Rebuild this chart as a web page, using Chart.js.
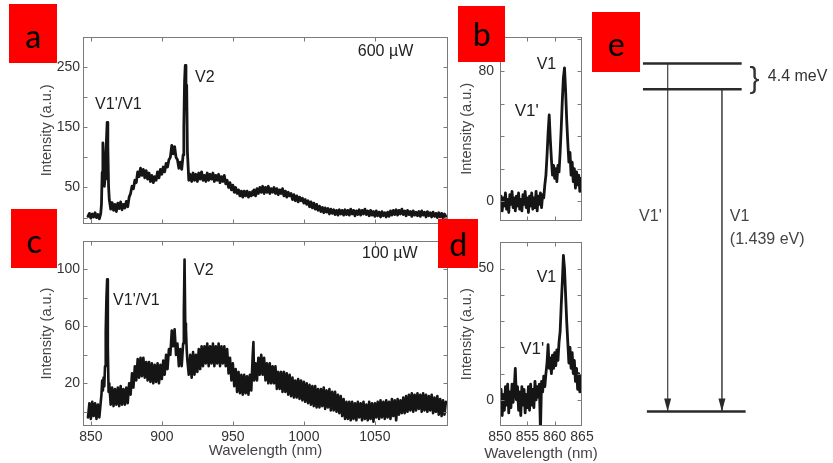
<!DOCTYPE html>
<html><head><meta charset="utf-8">
<script src="https://cdn.jsdelivr.net/npm/chart.js@4.4.1/dist/chart.umd.min.js"></script>
<style>
html,body{margin:0;padding:0;background:#fff;}
#fig{position:relative;width:833px;height:463px;overflow:hidden;background:#fff;}
canvas{position:absolute;}
.tag{position:absolute;z-index:5;background:#ff0000;color:#000;font-family:Lato,"Noto Sans",sans-serif;font-size:32px;line-height:1;display:flex;align-items:center;justify-content:center;}
</style></head><body>
<div id="fig">
<canvas id="cA" width="460" height="215" style="left:0;top:20px;width:460px;height:215px"></canvas>
<canvas id="cC" width="460" height="235" style="left:0;top:228px;width:460px;height:235px"></canvas>
<canvas id="cB" width="150" height="215" style="left:440px;top:20px;width:150px;height:215px"></canvas>
<canvas id="cD" width="160" height="235" style="left:440px;top:228px;width:160px;height:235px"></canvas>
<canvas id="cE" width="233" height="463" style="left:600px;top:0;width:233px;height:463px"></canvas>
<div class="tag" style="left:9px;top:4px;width:48px;height:59px;padding-top:4px;box-sizing:border-box">a</div>
<div class="tag" style="left:458px;top:6px;width:47px;height:56px">b</div>
<div class="tag" style="left:11px;top:209px;width:46px;height:59px;padding-top:4px;box-sizing:border-box">c</div>
<div class="tag" style="left:438px;top:219px;width:40px;height:49px">d</div>
<div class="tag" style="left:592px;top:12px;width:48px;height:60px;padding-top:4px;box-sizing:border-box">e</div>
</div>
<script>
// ---------- data ----------
const waveAC = [848,849,850,851,852,853,854,855,856,857,
 857.5,858,858.5,859,859.5,860,860.5,861,861.5,862,862.5,863,
 864,865,866,867,868,869,870,871,872,873,874,875,876,877,878,879,880,881,882,883,884,885,886,887,888,889,890,891,892,893,894,895,896,897,898,899,900,901,902,903,904,905,906,907,908,909,910,911,912,913,914,915,
 915.5,916,916.5,917,917.5,918,
 919,920,921,922,923,924,925,926,927,928,929,930,931,932,933,934,935,936,937,938,939,940,941,942,943,944,945,946,947,948,949,950,951,952,953,954,955,956,957,958,959,960,961,962,963,964,
 964.5,965,966,967,968,969,970,971,972,973,974,975,976,977,978,979,980,981,982,983,984,985,986,987,988,989,990,991,992,993,994,995,996,997,998,999,1000,1001,1002,1003,1004,1005,1006,1007,1008,1009,1010,1011,1012,1013,1014,1015,1016,1017,1018,1019,1020,1021,1022,1023,1024,1025,1026,1027,1028,1029,1030,1031,1032,1033,1034,1035,1036,1037,1038,1039,1040,1041,1042,1043,1044,1045,1046,1047,1048,1049,1050,1051,1052,1053,1054,1055,1056,1057,1058,1059,1060,1061,1062,1063,1064,1065,1066,1067,1068,1069,1070,1071,1072,1073,1074,1075,1076,1077,1078,1079,1080,1081,1082,1083,1084,1085,1086,1087,1088,1089,1090,1091,1092,1093,1094,1095,1096,1097,1098,1099,1100];
// panel a: 600 µW
const intensityA = [2,7,-1,6,1,8,0,5,-2,7,
 22,75,124,96,52,64,88,128,158,118,52,30,
 14,25,12,22,10,24,15,26,13,22, 16,27,18,34,40,52,48,62,58,76, 68,82,70,80,66,78,64,74,60,70, 58,68,62,76,66,80,72,84,76,90, 84,96,100,120,106,118,100,96,82,92, 80,104,
 150,225,253,180,220,110,
 62,72,60,74,62,72,60,74,64,76, 62,70,60,74,62,72,64,74,60,70, 62,72,58,68,60,70,56,62,50,58, 46,54,42,50,40,46,36,44,34,44, 36,44,34,42,36,44,
 38,
 46,36,48,40,50,42,52,40,50,42, 52,40,48,42,50,40,48,38,46,40, 48,36,44,34,42,36,40,30,38,28, 36,26,34,28,32,24,30,22,28,18,
 26,16,24,14,22,12,19,10,17,8, 16,9,15,6,14,7,13,5,12,4, 13,6,12,4,13,5,12,4,14,6, 12,3,11,5,13,4,12,6,14,5,
 11,3,12,4,10,2,11,3,9,1, 10,3,8,1,9,2,11,4,12,5, 13,4,12,6,14,5,11,3,12,5, 10,2,11,4,9,3,10,2,11,4,
 9,1,10,3,8,1,9,2,7,0, 8,1,7,-1,6,2];
// panel c: 100 µW
const intensityC = [-4,6,-5,7,-3,6,-5,5,-4,7,
 12,22,15,24,18,32,57,80,93,45,14,20,
 5,17,4,16,5,17,4,18,5,16, 5,17,6,20,12,27,17,32,22,37, 24,38,25,38,24,35,22,35,21,34, 20,33,21,34,20,33,23,36,26,40, 30,44,40,57,46,58,40,48,32,44, 32,48,
 70,107,62,58,44,36,
 26,40,24,42,26,40,28,44,30,46, 32,46,34,48,32,46,34,48,32,46, 34,48,32,46,34,46,32,44,27,38, 22,34,18,30,14,28,13,26,12,26, 13,25,12,26,15,40,
 49,
 22,34,22,38,26,40,26,38,22,34, 20,34,20,32,20,32,16,28,16,28, 14,28,14,27,12,26,11,24,10,22, 10,23,9,22,8,21,7,20,6,19,
 5,18,4,18,3,16,3,16,4,17, 2,15,3,16,1,14,1,14,0,12, -1,11,-3,9,-5,7,-5,7,-6,7, -5,6,-6,7,-4,6,-6,7,-5,5,
 -6,7,-5,6,-7,6,-4,7,-5,8, -4,7,-5,8,-4,7,-5,9,-3,8, -6,9,-2,8,-1,10,-1,11,0,12, 1,13,0,12,1,13,2,12,0,13,
 1,12,0,11,1,12,-1,10,0,11, -2,9,-3,8,-2,7];
const waveBD = [850,850.2,850.4,850.6,850.8,851,851.2,851.4,851.6,851.8,852,852.2,852.4,852.6,852.8,853,853.2,853.4,853.6,853.8,854,854.2,854.4,854.6,854.8,855,855.2,855.4,855.6,855.8,856,856.2,856.4,856.6,856.8,857,857.2,857.4,857.6,857.8,858,858.2,858.4,858.6,858.8,859,859.2,859.4,859.6,859.8,860,860.2,860.4,860.6,860.8,861,861.2,861.4,861.6,861.8,862,862.2,862.4,862.6,862.8,863,863.2,863.4,863.6,863.8,864,864.2,864.4,864.6,864.8,865];
// panel b: zoom, 600 µW
const intensityB = [-4,3,-6,2,-3,5,-5,1,-7,4,
 -2,6,-4,2,-6,3,-3,5,-5,1,
 -6,4,-2,6,-4,2,-7,3,-3,5,
 -5,2,-4,6,-6,3,-2,5,-4,4,
 2,10,16,28,42,53,38,26,16,22,
 14,20,12,22,18,30,45,62,76,82,
 68,50,36,24,30,16,24,12,20,8,
 18,10,16,6,14,8];
// panel d: zoom, 100 µW
const intensityD = [-3,4,-6,2,-4,5,-2,6,-5,3,
 -3,6,-1,4,12,0,5,-4,3,-6,
 5,-2,4,-5,2,-3,5,-4,6,-2,
 4,-3,7,0,5,1,6,-12,7,3,
 9,5,10,14,21,12,16,10,17,12,
 18,13,19,15,22,26,36,45,55,50,
 40,30,22,14,20,12,18,10,15,7,
 12,4,10,3,9,5];
// ticks
const xTicksAC = [850,900,950,1000,1050];
const xTickLabelsAC = [850,900,950,1000,1050];
const yTicksA = [0,50,100,150,200,250,300];
const yTickLabelsA = [50,150,250];
const yTicksC = [0,20,40,60,80,100,120];
const yTickLabelsC = [20,60,100];
const xTicksBD = [850,855,860,865];
const xTickLabelsD = [850,855,860,865];
const yTicksB = [0,20,40,60,80,100];
const yTickLabelsB = [0,80];
const yTicksD = [0,10,20,30,40,50,60];
const yTickLabelsD = [0,50];
// energy-level diagram (schematic units)
const levelNames = ["V1' excited","V1 excited","ground"];
const levelEnergy = [108,100,0];
const levelStart = [0,0,4];
const levelEnd = [100,100,104];
const transitionNames = ["V1'","V1"];
const transitionPos = [25,80];
const transitionFrom = [108,100];
const transitionTo = [0,0];

// ---------- helpers ----------
const FONT = '"Liberation Sans", Arial, Helvetica, sans-serif';
Chart.defaults.font.family = FONT;
Chart.defaults.color = '#333';

function framePlugin(color){
  return {id:'frameTicks', afterDatasetsDraw(chart){
    const {ctx, chartArea:a, scales:{x,y}} = chart;
    ctx.save();
    ctx.strokeStyle = color; ctx.lineWidth = 1;
    const L = Math.round(a.left)+0.5, T = Math.round(a.top)+0.5, R = Math.round(a.right)-0.5, B = Math.round(a.bottom)-0.5;
    ctx.strokeRect(L, T, R-L, B-T);
    ctx.beginPath();
    const len = 4;
    x.ticks.forEach(t=>{const p=Math.round(x.getPixelForValue(t.value))+0.5; if(p<L||p>R)return; ctx.moveTo(p,T); ctx.lineTo(p,T+len); ctx.moveTo(p,B); ctx.lineTo(p,B-len);});
    y.ticks.forEach(t=>{const p=Math.round(y.getPixelForValue(t.value))+0.5; if(p<T||p>B)return; ctx.moveTo(L,p); ctx.lineTo(L+len,p); ctx.moveTo(R,p); ctx.lineTo(R-len,p);});
    ctx.stroke();
    ctx.restore();
  }};
}
function notesPlugin(spec){
  return {id:'notes', afterDraw(chart){
    const {ctx, chartArea:a, scales:{x,y}} = chart;
    ctx.save();
    ctx.textBaseline = 'middle';
    (spec.items||[]).forEach(n=>{
      ctx.font = (n.size||16)+'px '+FONT;
      ctx.fillStyle = n.color||'#222';
      ctx.textAlign = n.align||'left';
      ctx.fillText(n.text, x.getPixelForValue(n.x), y.getPixelForValue(n.y));
    });
    if(spec.yTitle){
      ctx.save();
      ctx.translate(a.left - spec.yTitle.offset, (a.top+a.bottom)/2);
      ctx.rotate(-Math.PI/2);
      ctx.font = '14.5px '+FONT; ctx.fillStyle = '#444'; ctx.textAlign = 'center';
      ctx.fillText(spec.yTitle.text, 0, 0);
      ctx.restore();
    }
    if(spec.xTitle){
      ctx.font = '15px '+FONT; ctx.fillStyle = '#444'; ctx.textAlign = 'center';
      ctx.fillText(spec.xTitle.text, (a.left+a.right)/2, a.bottom + spec.xTitle.offset);
    }
    ctx.restore();
  }};
}
function spectrum(o){
  const pts = o.xs.map((x,i)=>({x:x, y:o.ys[i]}));
  return new Chart(document.getElementById(o.id), {
    type:'line',
    data:{datasets:[{data:pts, borderColor:'#151515', borderWidth:o.lw, pointRadius:0, tension:0, fill:false, borderJoinStyle:'round', borderCapStyle:'round'}]},
    options:{
      responsive:false, animation:false, events:[],
      layout:{padding:{top:o.padTop, right:o.padRight, left:0, bottom:0}},
      plugins:{legend:{display:false}, tooltip:{enabled:false}},
      scales:{
        x:{type:'linear', min:o.xMin, max:o.xMax,
          grid:{display:false, drawTicks:false}, border:{display:false},
          afterBuildTicks:s=>{s.ticks=o.xTicks.map(v=>({value:v}));},
          afterFit:s=>{s.height=o.xAxisH;},
          ticks:{display:o.showX, padding:3, color:'#333', font:{size:14}, autoSkip:false, maxRotation:0, minRotation:0,
            callback:v=>o.xLabels.includes(v)?String(v):''}},
        y:{type:'linear', min:o.yMin, max:o.yMax,
          grid:{display:false, drawTicks:false}, border:{display:false},
          afterBuildTicks:s=>{s.ticks=o.yTicks.map(v=>({value:v}));},
          afterFit:s=>{s.width=o.yAxisW;},
          ticks:{padding:o.yPad, color:'#333', font:{size:14}, autoSkip:false,
            callback:v=>o.yLabels.includes(v)?String(v):''}}
      }
    },
    plugins:[framePlugin('#7a7a7a'), notesPlugin(o.notes)]
  });
}

spectrum({id:'cA', xs:waveAC, ys:intensityA, lw:2.8,
  xMin:844.5, xMax:1101.5, xTicks:xTicksAC, xLabels:[], showX:false,
  yMin:-10, yMax:300, yTicks:yTicksA, yLabels:yTickLabelsA,
  yAxisW:83, xAxisH:10, padTop:17, padRight:12, yPad:3,
  notes:{items:[{text:"V1'/V1", x:853, y:188},{text:'V2', x:923.4, y:233},{text:'600 µW', x:1038, y:275}],
    yTitle:{text:'Intensity (a.u.)', offset:36}}});
spectrum({id:'cC', xs:waveAC, ys:intensityC, lw:2.6,
  xMin:844.5, xMax:1101.5, xTicks:xTicksAC, xLabels:xTickLabelsAC, showX:true,
  yMin:-10, yMax:120, yTicks:yTicksC, yLabels:yTickLabelsC,
  yAxisW:83, xAxisH:37, padTop:13, padRight:12, yPad:3,
  notes:{items:[{text:"V1'/V1", x:865.7, y:78},{text:'V2', x:922.7, y:99},{text:'100 µW', x:1041, y:111}],
    yTitle:{text:'Intensity (a.u.)', offset:36}, xTitle:{text:'Wavelength (nm)', offset:25}}});
spectrum({id:'cB', xs:waveBD, ys:intensityB, lw:2.8,
  xMin:850, xMax:865, xTicks:xTicksBD, xLabels:[], showX:false,
  yMin:-12, yMax:101, yTicks:yTicksB, yLabels:yTickLabelsB,
  yAxisW:60, xAxisH:10, padTop:17, padRight:8, yPad:6,
  notes:{items:[{text:'V1', x:856.7, y:84, size:16},{text:"V1'", x:852.7, y:55, size:17}],
    yTitle:{text:'Intensity (a.u.)', offset:33}}});
spectrum({id:'cD', xs:waveBD, ys:intensityD, lw:2.8,
  xMin:850, xMax:865, xTicks:xTicksBD, xLabels:xTickLabelsD, showX:true,
  yMin:-10, yMax:60, yTicks:yTicksD, yLabels:yTickLabelsD,
  yAxisW:60, xAxisH:37, padTop:13, padRight:18, yPad:6,
  notes:{items:[{text:'V1', x:856.7, y:46.5, size:16},{text:"V1'", x:853.7, y:19.4, size:17}],
    yTitle:{text:'Intensity (a.u.)', offset:33}, xTitle:{text:'Wavelength (nm)', offset:28}}});

// ---------- panel e: energy level diagram ----------
const eSets = [];
levelEnergy.forEach((E,i)=>eSets.push({label:levelNames[i], data:[{x:levelStart[i],y:E},{x:levelEnd[i],y:E}],
  borderColor:'#2a2a2a', borderWidth:2.5, pointRadius:0}));
transitionPos.forEach((p,i)=>eSets.push({label:transitionNames[i], data:[{x:p,y:transitionFrom[i]},{x:p,y:transitionTo[i]}],
  borderColor:'#555', borderWidth:1, pointRadius:0}));
const diagramPlugin = {id:'diagram', afterDatasetsDraw(chart){
  const {ctx, scales:{x,y}} = chart;
  ctx.save();
  ctx.fillStyle = '#2a2a2a';
  transitionPos.forEach((p,i)=>{
    const px = x.getPixelForValue(p), py = y.getPixelForValue(transitionTo[i]);
    ctx.beginPath(); ctx.moveTo(px, py); ctx.lineTo(px-3.5, py-13); ctx.lineTo(px+3.5, py-13); ctx.closePath(); ctx.fill();
  });
  ctx.textBaseline = 'middle';
  ctx.fillStyle = '#444';
  ctx.font = '16px '+FONT;
  ctx.textAlign = 'right';
  ctx.fillText(transitionNames[0], x.getPixelForValue(19), y.getPixelForValue(60.5));
  ctx.textAlign = 'left';
  ctx.fillText(transitionNames[1], x.getPixelForValue(88), y.getPixelForValue(60.5));
  ctx.fillText('(1.439 eV)', x.getPixelForValue(88), y.getPixelForValue(53.3));
  ctx.fillStyle = '#333';
  ctx.fillText('4.4 meV', x.getPixelForValue(126.5), y.getPixelForValue(104));
  ctx.font = '30px '+FONT;
  ctx.fillText('}', x.getPixelForValue(108), y.getPixelForValue(103));
  ctx.restore();
}};
new Chart(document.getElementById('cE'), {
  type:'line',
  data:{datasets:eSets},
  options:{responsive:false, animation:false, events:[],
    layout:{padding:0},
    plugins:{legend:{display:false}, tooltip:{enabled:false}},
    scales:{x:{type:'linear', display:false, min:-43.5, max:192.5},
            y:{type:'linear', display:false, min:-16, max:127.7}}},
  plugins:[diagramPlugin]
});
</script>
</body></html>
